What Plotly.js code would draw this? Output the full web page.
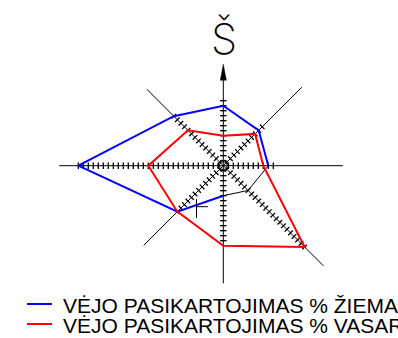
<!DOCTYPE html>
<html><head><meta charset="utf-8">
<script src="https://cdn.plot.ly/plotly-3.0.1.min.js"></script>
<style>html,body{margin:0;padding:0;background:#fff;}#chart{width:398px;height:338px;}</style>
</head><body><div id="chart"></div>
<script>
// Data (percent of wind recurrence per direction)
const directions = ['Š', 'ŠR', 'R', 'PR', 'P', 'PV', 'V', 'ŠV'];
const angles = [0, 45, 90, 135, 180, 225, 270, 315];
const winter = [12, 10, 9, 7, 6, 13, 29, 14];
const summer = [6, 9, 8, 23, 16, 13, 15, 10];
const tickCounts = [13, 11, 10, 23, 15, 13, 29, 14];
const seriesNames = ['VĖJO PASIKARTOJIMAS % ŽIEMA', 'VĖJO PASIKARTOJIMAS % VASARA'];

// drawing helpers
const W = 398, H = 338, CX = 223.3, CY = 165.7, PX = 5;
const axisLen = [17.1, 22.2, 23.9, 28.3, 23.5, 22.5, 32.8, 21.6];
const rad = a => a * Math.PI / 180;
const px = (r, a) => r * Math.sin(rad(a));
const py = (r, a) => r * Math.cos(rad(a));

// axis lines
const ax = [], ay = [];
angles.forEach((a, i) => { ax.push(0, px(axisLen[i], a), null); ay.push(0, py(axisLen[i], a), null); });
// ticks
const tx = [], ty = [], th = 0.65;
angles.forEach((a, i) => {
  const s = Math.sin(rad(a)), c = Math.cos(rad(a));
  for (let k = 1; k <= tickCounts[i]; k++) {
    const x = k * s, y = k * c;
    tx.push(x + th * c, x - th * c, null);
    ty.push(y - th * s, y + th * s, null);
  }
});

// summer polygon (closed)
const sIdx = [0, 1, 2, 3, 4, 5, 6, 7, 0];
// winter polygon: blue part S→SW→W→NW→N→NE→E, thin black part E→SE→S
const wBlue = [4, 5, 6, 7, 0, 1, 2];
const wBlack = [2, 3, 4];

const traces = [
  {x: ax, y: ay, mode: 'lines', line: {color: '#000', width: 1}, hoverinfo: 'skip', showlegend: false},
  {x: tx, y: ty, mode: 'lines', line: {color: '#000', width: 1.3}, hoverinfo: 'skip', showlegend: false},
  {x: wBlack.map(i => px(winter[i], angles[i])), y: wBlack.map(i => py(winter[i], angles[i])),
   mode: 'lines', line: {color: '#000', width: 1}, showlegend: false, hoverinfo: 'skip'},
  {x: wBlue.map(i => px(winter[i], angles[i])), y: wBlue.map(i => py(winter[i], angles[i])),
   text: wBlue.map(i => directions[i]), name: seriesNames[0],
   mode: 'lines', line: {color: '#0000ff', width: 2}, showlegend: false},
  {x: sIdx.map(i => px(summer[i], angles[i])), y: sIdx.map(i => py(summer[i], angles[i])),
   text: sIdx.map(i => directions[i]), name: seriesNames[1],
   mode: 'lines', line: {color: '#ff0000', width: 2}, showlegend: false}
];

const toPX = x => x / W, toPY = y => 1 - y / H;
const shapes = [
  {type: 'circle', xref: 'x', yref: 'y', x0: -0.8, x1: 0.8, y0: -0.8, y1: 0.8, line: {color: '#000', width: 1}},
  {type: 'path', xref: 'x', yref: 'y', path: 'M -0.6 17.1 L 0 20.3 L 0.6 17.1 Z', fillcolor: '#000', line: {color: '#000', width: 0.5}},
  // small cross mark
  {type: 'line', xref: 'paper', yref: 'paper', x0: toPX(196.5), x1: toPX(196.5), y0: toPY(199), y1: toPY(218), line: {color: '#000', width: 1}},
  {type: 'line', xref: 'paper', yref: 'paper', x0: toPX(196.5), x1: toPX(208), y0: toPY(206.7), y1: toPY(206.7), line: {color: '#000', width: 1}},
  // legend keys
  {type: 'line', xref: 'paper', yref: 'paper', x0: toPX(27), x1: toPX(52), y0: toPY(304), y1: toPY(304), line: {color: '#0000ff', width: 2}},
  {type: 'line', xref: 'paper', yref: 'paper', x0: toPX(27), x1: toPX(52), y0: toPY(324), y1: toPY(324), line: {color: '#ff0000', width: 2}}
];

const annotations = [
  {text: 'Š', xref: 'paper', yref: 'paper', x: toPX(223.5), y: toPY(38), xanchor: 'center', yanchor: 'middle', showarrow: false,
   font: {family: 'Inter, "DejaVu Sans", sans-serif', size: 42, color: '#000', weight: 250}},
  {text: seriesNames[0], xref: 'paper', yref: 'paper', x: toPX(61), y: toPY(305), xanchor: 'left', yanchor: 'middle', showarrow: false,
   font: {family: '"Liberation Sans", Arial, sans-serif', size: 21, color: '#000'}},
  {text: seriesNames[1], xref: 'paper', yref: 'paper', x: toPX(61), y: toPY(325), xanchor: 'left', yanchor: 'middle', showarrow: false,
   font: {family: '"Liberation Sans", Arial, sans-serif', size: 21, color: '#000'}}
];

const layout = {
  width: W, height: H, autosize: false,
  margin: {l: 0, r: 0, t: 0, b: 0, pad: 0},
  paper_bgcolor: '#fff', plot_bgcolor: '#fff',
  xaxis: {range: [-CX / PX, (W - CX) / PX], visible: false, fixedrange: true},
  yaxis: {range: [-(H - CY) / PX, CY / PX], visible: false, fixedrange: true},
  showlegend: false,
  shapes: shapes, annotations: annotations
};
Plotly.newPlot('chart', traces, layout, {displayModeBar: false, staticPlot: true});
</script></body></html>
